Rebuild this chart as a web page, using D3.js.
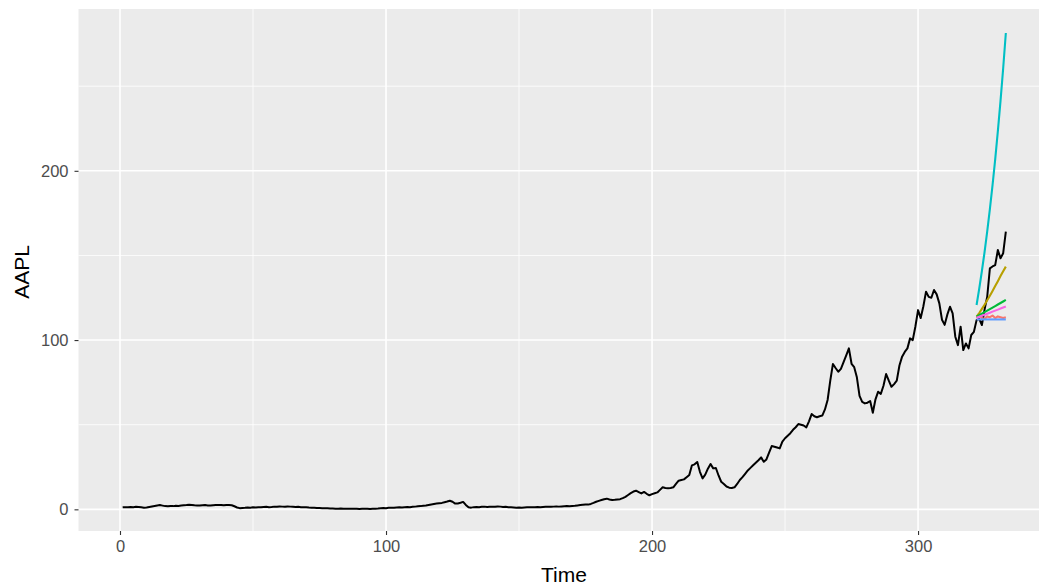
<!DOCTYPE html>
<html><head><meta charset="utf-8">
<script src="https://cdn.jsdelivr.net/npm/d3@7"></script>
<style>body{margin:0;background:#fff;} svg{display:block;}</style>
</head><body>
<svg id="c" width="1039" height="588"></svg>
<script>
// AAPL series, index 1..333
const aapl = [
1.2,1.3,1.2,1.4,1.3,1.5,1.4,1.2,1.0,1.1,1.4,1.7,2.0,2.3,2.5,2.2,1.9,1.8,2.0,1.9,
2.1,2.0,2.2,2.4,2.5,2.7,2.6,2.4,2.3,2.2,2.4,2.5,2.3,2.2,2.4,2.5,2.6,2.5,2.4,2.6,
2.5,2.4,1.8,1.1,0.7,0.8,0.9,1.1,1.0,1.2,1.1,1.3,1.2,1.4,1.5,1.3,1.4,1.6,1.5,1.7,
1.6,1.5,1.7,1.6,1.5,1.4,1.5,1.3,1.2,1.3,1.1,1.0,0.9,0.8,0.8,0.7,0.6,0.6,0.5,0.5,
0.4,0.4,0.5,0.4,0.3,0.3,0.4,0.3,0.3,0.2,0.3,0.4,0.3,0.2,0.3,0.4,0.5,0.7,0.8,0.7,
0.9,1.0,0.9,1.1,1.2,1.1,1.3,1.4,1.3,1.5,1.6,1.8,1.9,2.1,2.3,2.6,2.9,3.2,3.4,3.6,
3.8,4.2,4.6,5.1,4.5,3.4,3.5,3.9,4.4,2.6,1.2,1.0,1.3,1.4,1.2,1.5,1.6,1.4,1.5,1.6,
1.5,1.7,1.6,1.4,1.5,1.3,1.2,1.1,1.0,1.1,1.0,1.1,1.2,1.3,1.2,1.3,1.4,1.3,1.4,1.5,
1.6,1.5,1.6,1.7,1.6,1.7,1.8,1.9,1.8,2.0,2.1,2.3,2.5,2.7,2.9,2.8,3.2,3.8,4.5,5.0,
5.5,6.0,6.3,5.8,5.5,5.6,5.8,6.0,6.6,7.4,8.5,9.6,10.5,11.0,10.2,9.4,10.3,9.2,8.3,9.0,
9.5,10.0,11.5,13.0,12.6,12.4,12.6,13.0,15.0,16.9,17.3,17.7,19.0,20.3,26.0,26.6,28.0,22.2,18.3,20.5,
24.0,26.8,24.2,24.4,20.0,16.3,15.0,13.5,12.8,12.6,13.0,15.0,17.3,19.0,21.0,23.0,24.5,26.0,27.5,29.0,
30.7,28.1,29.5,33.5,37.4,37.0,36.5,36.0,40.0,42.0,43.5,45.0,47.0,48.5,50.4,50.0,49.5,48.4,52.0,56.3,
55.0,54.4,55.0,55.4,59.0,64.6,76.0,85.9,83.5,81.3,83.0,87.0,91.0,95.1,86.0,84.0,78.0,67.0,63.5,62.6,
63.0,64.0,57.1,65.0,69.5,68.2,73.0,79.9,76.0,72.4,74.0,76.0,85.0,90.2,93.0,95.1,101.0,100.0,108.0,117.7,
113.0,120.0,128.6,125.5,125.0,129.6,127.0,121.7,112.0,109.0,115.0,119.7,115.8,102.0,97.0,107.9,94.1,98.0,95.1,103.0,
104.9,111.8,112.5,108.9,118.0,125.6,142.4,143.5,144.3,153.2,148.3,151.3,164.0
];
// forecasts for index 322..333
const fcStart = 322;
const fcRed   = [113.0,114.5,113.0,112.5,114.0,113.5,114.5,113.0,114.0,113.5,113.0,113.5];
const fcGold  = [113.8,116.0,118.4,120.9,123.5,126.2,129.0,131.9,134.8,137.8,140.6,143.4];
const fcGreen = [113.8,114.7,115.6,116.5,117.4,118.3,119.2,120.1,121.0,121.9,122.8,123.7];
const fcCyan  = [120.7,130.4,140.8,152.0,164.2,177.4,191.5,206.8,223.4,241.3,260.6,281.4];
const fcBlue  = [112.2,112.2,112.2,112.2,112.2,112.2,112.2,112.2,112.2,112.2,112.2,112.2];
const fcPink  = [113.2,113.8,114.4,115.0,115.6,116.2,116.8,117.4,118.0,118.6,119.2,119.8];
const xTicks = [0,100,200,300];
const yTicks = [0,100,200];
const xMinor = [50,150,250,350];
const yMinor = [50,150,250];

const svg = d3.select("#c");
const L = 78.5, T = 9, B = 531, R = 1050;
const x = d3.scaleLinear().domain([-15.6, 349.6]).range([L, R]);
const y = d3.scaleLinear().domain([-12.8, 295.6]).range([B, T]);
const FONT = "Liberation Sans, Arial, Helvetica, sans-serif";

svg.append("rect").attr("x", L).attr("y", T).attr("width", R - L).attr("height", B - T).attr("fill", "#EBEBEB");
const g = svg.append("g");
g.selectAll(".xm").data(xMinor).join("line").attr("x1", d => x(d)).attr("x2", d => x(d)).attr("y1", T).attr("y2", B).attr("stroke", "#fff").attr("stroke-width", 0.8);
g.selectAll(".ym").data(yMinor).join("line").attr("y1", d => y(d)).attr("y2", d => y(d)).attr("x1", L).attr("x2", R).attr("stroke", "#fff").attr("stroke-width", 0.8);
g.selectAll(".xM").data(xTicks).join("line").attr("x1", d => x(d)).attr("x2", d => x(d)).attr("y1", T).attr("y2", B).attr("stroke", "#fff").attr("stroke-width", 1.6);
g.selectAll(".yM").data(yTicks).join("line").attr("y1", d => y(d)).attr("y2", d => y(d)).attr("x1", L).attr("x2", R).attr("stroke", "#fff").attr("stroke-width", 1.6);

// axes
const xa = svg.append("g").attr("transform", `translate(0,${B})`)
  .call(d3.axisBottom(x).tickValues(xTicks).tickSize(4).tickPadding(5).tickFormat(d3.format("d")));
const ya = svg.append("g").attr("transform", `translate(${L},0)`)
  .call(d3.axisLeft(y).tickValues(yTicks).tickSize(4).tickPadding(6).tickFormat(d3.format("d")));
[xa, ya].forEach(a => {
  a.select(".domain").remove();
  a.selectAll(".tick line").attr("stroke", "#333").attr("stroke-width", 1.1);
  a.selectAll("text").attr("fill", "#4D4D4D").style("font-family", FONT).style("font-size", "16.5px");
});

const line = d3.line().x(d => x(d[0])).y(d => y(d[1]));
svg.append("clipPath").attr("id", "pc").append("rect").attr("x", L).attr("y", T).attr("width", R - L).attr("height", B - T);
const plot = svg.append("g").attr("clip-path", "url(#pc)");
plot.append("path").datum(aapl.map((v, i) => [i + 1, v])).attr("d", line)
  .attr("fill", "none").attr("stroke", "#000").attr("stroke-width", 2).attr("stroke-linejoin", "round");

const series = [
  [fcRed, "#F8766D"], [fcGold, "#B79F00"], [fcGreen, "#00BA38"],
  [fcCyan, "#00BFC4"], [fcBlue, "#619CFF"], [fcPink, "#F564E3"]
];
series.forEach(([vals, col]) => {
  plot.append("path").datum(vals.map((v, i) => [fcStart + i, v])).attr("d", line)
    .attr("fill", "none").attr("stroke", col).attr("stroke-width", 2.1).attr("stroke-linejoin", "round");
});

svg.append("text").attr("x", 564).attr("y", 582).attr("text-anchor", "middle")
  .style("font-family", FONT).style("font-size", "21px").attr("fill", "#000").text("Time");
svg.append("text").attr("transform", `translate(29,${272}) rotate(-90)`).attr("text-anchor", "middle")
  .style("font-family", FONT).style("font-size", "21px").attr("fill", "#000").text("AAPL");
</script>
</body></html>
